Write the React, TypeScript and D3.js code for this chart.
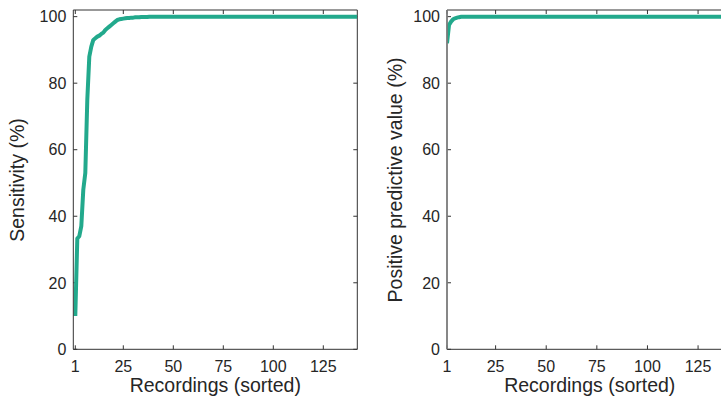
import React from "react";
import * as d3 from "d3";

// Recording index (sorted) 1..142
const sensitivity: number[] = [
  10, 33.3, 34, 37, 48, 53, 75, 88, 91, 93,
  93.5, 94, 94.3, 94.8, 95.2, 96, 96.5, 97, 97.5, 98,
  98.5, 99, 99.2, 99.3, 99.4, 99.5, 99.6, 99.6, 99.7, 99.7,
  99.8, 99.8, 99.8, 99.9, 99.9, 99.9, 99.9, 100, 100, 100,
  100, 100, 100, 100, 100, 100, 100, 100, 100, 100,
  100, 100, 100, 100, 100, 100, 100, 100, 100, 100,
  100, 100, 100, 100, 100, 100, 100, 100, 100, 100,
  100, 100, 100, 100, 100, 100, 100, 100, 100, 100,
  100, 100, 100, 100, 100, 100, 100, 100, 100, 100,
  100, 100, 100, 100, 100, 100, 100, 100, 100, 100,
  100, 100, 100, 100, 100, 100, 100, 100, 100, 100,
  100, 100, 100, 100, 100, 100, 100, 100, 100, 100,
  100, 100, 100, 100, 100, 100, 100, 100, 100, 100,
  100, 100, 100, 100, 100, 100, 100, 100, 100, 100,
  100, 100,
];

const ppv: number[] = [
  92, 97.5, 98.5, 99.2, 99.5, 99.7, 99.85, 99.95, 100, 100,
  100, 100, 100, 100, 100, 100, 100, 100, 100, 100,
  100, 100, 100, 100, 100, 100, 100, 100, 100, 100,
  100, 100, 100, 100, 100, 100, 100, 100, 100, 100,
  100, 100, 100, 100, 100, 100, 100, 100, 100, 100,
  100, 100, 100, 100, 100, 100, 100, 100, 100, 100,
  100, 100, 100, 100, 100, 100, 100, 100, 100, 100,
  100, 100, 100, 100, 100, 100, 100, 100, 100, 100,
  100, 100, 100, 100, 100, 100, 100, 100, 100, 100,
  100, 100, 100, 100, 100, 100, 100, 100, 100, 100,
  100, 100, 100, 100, 100, 100, 100, 100, 100, 100,
  100, 100, 100, 100, 100, 100, 100, 100, 100, 100,
  100, 100, 100, 100, 100, 100, 100, 100, 100, 100,
  100, 100, 100, 100, 100, 100, 100, 100, 100, 100,
  100, 100,
];

const xTicks: number[] = [1, 25, 50, 75, 100, 125];
const yTicks: number[] = [0, 20, 40, 60, 80, 100];
const xLabel = "Recordings (sorted)";
const yLabels: string[] = ["Sensitivity (%)", "Positive predictive value (%)"];

const W = 721;
const H = 398;
const LINE = "#22a98c";
const AX = "#333333";
const FONT = "'Liberation Sans', Arial, Helvetica, sans-serif";

type PanelProps = {
  values: number[];
  xDomain: [number, number];
  xRange: [number, number];
  yLabel: string;
  yLabelX: number;
  leftStroke: string;
  leftWidth: number;
  id: string;
};

function Panel({ values, xDomain, xRange, yLabel, yLabelX, leftStroke, leftWidth, id }: PanelProps) {
  const top = 10;
  const bottom = 349.3;
  const x = d3.scaleLinear().domain(xDomain).range(xRange);
  const y = d3.scaleLinear().domain([0, 102]).range([bottom, top]);
  const line = d3
    .line<number>()
    .x((_, i) => x(i + 1))
    .y((d) => y(d));
  const [x0, x1] = xRange;
  const tl = 4;
  const cx = (x0 + x1) / 2;
  return (
    <g>
      <defs>
        <clipPath id={id}>
          <rect x={x0} y={top} width={x1 - x0} height={bottom - top} />
        </clipPath>
      </defs>
      {/* frame */}
      <line x1={x0} x2={x1} y1={top} y2={top} stroke={AX} strokeWidth={1} />
      <line x1={x0} x2={x1} y1={bottom} y2={bottom} stroke={AX} strokeWidth={1} />
      <line x1={x1} x2={x1} y1={top} y2={bottom} stroke={AX} strokeWidth={1} />
      {/* ticks */}
      {xTicks.map((t) => (
        <g key={"x" + t}>
          <line x1={x(t)} x2={x(t)} y1={bottom} y2={bottom - tl} stroke={AX} />
          <line x1={x(t)} x2={x(t)} y1={top} y2={top + tl} stroke={AX} />
          <text
            x={x(t)}
            y={372}
            textAnchor="middle"
            fontSize={16}
            fill="#262626"
            fontFamily={FONT}
          >
            {t}
          </text>
        </g>
      ))}
      {yTicks.map((t) => (
        <g key={"y" + t}>
          <line x1={x0} x2={x0 + tl} y1={y(t)} y2={y(t)} stroke={AX} />
          <line x1={x1} x2={x1 - tl} y1={y(t)} y2={y(t)} stroke={AX} />
          <text
            x={x0 - 7}
            y={y(t)}
            dy="0.36em"
            textAnchor="end"
            fontSize={16}
            fill="#262626"
            fontFamily={FONT}
          >
            {t}
          </text>
        </g>
      ))}
      <path
        d={line(values) || ""}
        fill="none"
        stroke={LINE}
        strokeWidth={4}
        strokeLinejoin="round"
        clipPath={`url(#${id})`}
      />
      <line x1={x0} x2={x0} y1={top} y2={bottom} stroke={leftStroke} strokeWidth={leftWidth} />
      <text
        x={cx}
        y={392}
        textAnchor="middle"
        fontSize={19.5}
        fill="#262626"
        fontFamily={FONT}
      >
        {xLabel}
      </text>
      <text
        transform={`translate(${yLabelX},180) rotate(-90)`}
        textAnchor="middle"
        fontSize={19.5}
        fill="#262626"
        fontFamily={FONT}
      >
        {yLabel}
      </text>
    </g>
  );
}

export default function App() {
  return (
    <svg
      width={W}
      height={H}
      style={{ position: "absolute", left: 0, top: 0, background: "#fff" }}
    >
      <rect width={W} height={H} fill="#fff" />
      <Panel
        values={sensitivity}
        xDomain={[0, 142]}
        xRange={[73.3, 357.3]}
        yLabel={yLabels[0]}
        yLabelX={23.5}
        leftStroke={AX}
        leftWidth={1}
        id="clipA"
      />
      <Panel
        values={ppv}
        xDomain={[1, 142]}
        xRange={[447, 732.5]}
        yLabel={yLabels[1]}
        yLabelX={402}
        leftStroke="#7a7a7a"
        leftWidth={1.8}
        id="clipB"
      />
    </svg>
  );
}
